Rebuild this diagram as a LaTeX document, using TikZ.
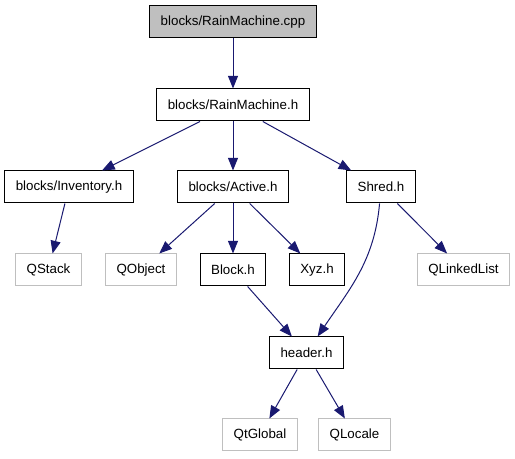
\documentclass[tikz,border=0pt]{standalone}
\usepackage{fontspec}
\setmainfont{Liberation Sans}
\usetikzlibrary{arrows.meta, positioning}

\definecolor{edgeblue}{HTML}{191970}
\definecolor{extgray}{HTML}{BFBFBF}

\begin{document}
\begin{tikzpicture}[x=0.75pt, y=-0.75pt,
  file/.style={draw=black, line width=0.75pt, inner xsep=8.3pt, minimum height=24pt, font=\fontsize{10}{12}\selectfont},
  ext/.style={file, draw=extgray},
  dep/.style={draw=edgeblue, line width=0.75pt, -{Triangle[length=9.5pt,width=7.5pt]}}]
  \useasboundingbox (0,0) rectangle (515,459);

  % Files of the project
  \node[file, fill=extgray] (cpp) at (233,22) {blocks/RainMachine.cpp};
  \node[file] (rmh) at (233,105) {blocks/RainMachine.h};
  \node[file] (inventory) at (69,187) {blocks/Inventory.h};
  \node[file] (active) at (233,187) {blocks/Active.h};
  \node[file] (shred) at (381,187) {Shred.h};
  \node[file] (block) at (233,270) {Block.h};
  \node[file] (xyz) at (317,270) {Xyz.h};
  \node[file] (header) at (306.5,353) {header.h};

  % Qt headers
  \node[ext] (qstack) at (48.5,270) {QStack};
  \node[ext] (qobject) at (141,270) {QObject};
  \node[ext] (qlinkedlist) at (463.5,270) {QLinkedList};
  \node[ext] (qtglobal) at (260,435) {QtGlobal};
  \node[ext] (qlocale) at (354.5,435) {QLocale};

  % Include edges
  \draw[dep] (cpp) -- (rmh);
  \draw[dep] (rmh) -- (inventory);
  \draw[dep] (rmh) -- (active);
  \draw[dep] (rmh) -- (shred);
  \draw[dep] (inventory) -- (qstack);
  \draw[dep] (active) -- (qobject);
  \draw[dep] (active) -- (block);
  \draw[dep] (active) -- (xyz);
  \draw[dep] (shred) -- (qlinkedlist);
  \draw[dep] (shred) to[out=-95, in=56] (header);
  \draw[dep] (block) -- (header);
  \draw[dep] (header) -- (qtglobal);
  \draw[dep] (header) -- (qlocale);
\end{tikzpicture}
\end{document}
